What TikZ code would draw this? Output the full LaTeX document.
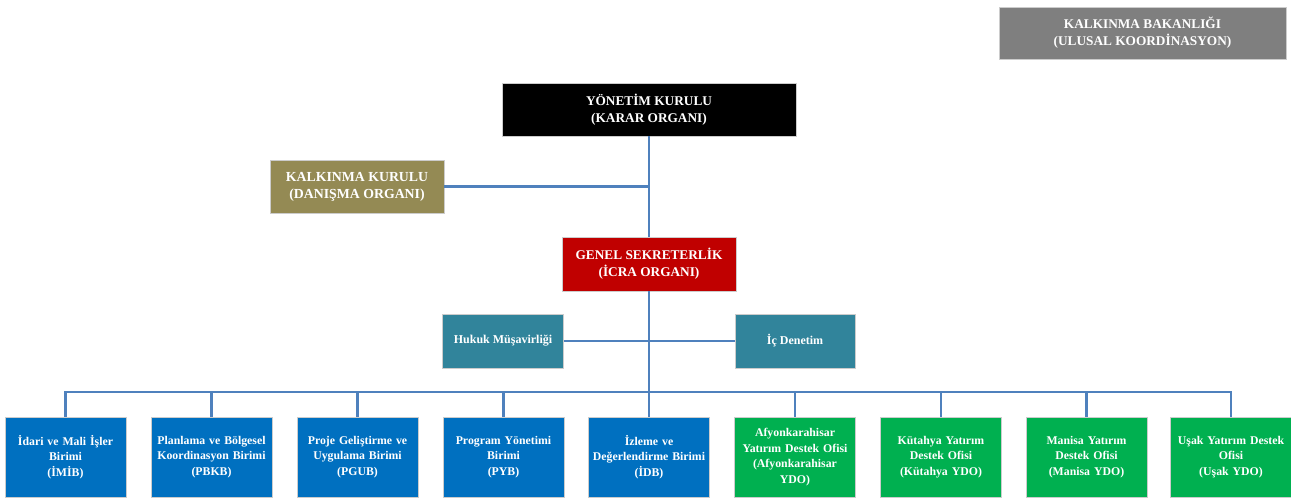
\documentclass[tikz,border=0pt]{standalone}
\usepackage{fontspec}
\setmainfont{Liberation Serif}
\definecolor{cgray}{HTML}{7F7F7F}
\definecolor{colive}{HTML}{948A54}
\definecolor{cred}{HTML}{C00000}
\definecolor{cteal}{HTML}{31849B}
\definecolor{cblue}{HTML}{0070C0}
\definecolor{cgreen}{HTML}{00B050}
\definecolor{cline}{HTML}{4F81BD}
\tikzset{
  box/.style={rectangle, inner sep=2pt, align=center, text=white, font=\bfseries, draw=white!80!black, line width=0.6pt},
  bigbox/.style={box, font=\fontsize{13.3}{16.8}\selectfont\bfseries},
  midbox/.style={box, minimum width=121pt, minimum height=54pt, font=\fontsize{12}{15}\selectfont\bfseries},
  unit/.style={box, minimum width=121pt, minimum height=80pt, text width=115pt, font=\fontsize{11.8}{15.5}\selectfont\bfseries},
  conn/.style={draw=cline, line width=2.2pt}
}
\begin{document}
\begin{tikzpicture}[x=1pt,y=-1pt]
\useasboundingbox (0,0) rectangle (1291,500);
\node[bigbox, fill=cgray, minimum width=287pt, minimum height=52pt] (kb) at (1142.5,33) {KALKINMA BAKANLIĞI\\(ULUSAL KOORDİNASYON)};
\node[bigbox, fill=black, minimum width=294pt, minimum height=53pt] (yk) at (649,109.5) {YÖNETİM KURULU\\(KARAR ORGANI)};
\node[bigbox, fill=colive, minimum width=174pt, minimum height=53pt, font=\fontsize{13.8}{17}\selectfont\bfseries] (kk) at (357,186.5) {KALKINMA KURULU\\(DANIŞMA ORGANI)};
\node[bigbox, fill=cred, minimum width=174pt, minimum height=54pt] (gs) at (649,264) {GENEL SEKRETERLİK\\(İCRA ORGANI)};
\node[midbox, fill=cteal] (hm) at (503,341) {Hukuk Müşavirliği};
\node[midbox, fill=cteal, minimum width=120pt] (id) at (795,341) {İç Denetim};
\node[unit, fill=cblue] (b1) at (65.5,457) {İdari ve Mali İşler\\Birimi\\(İMİB)};
\node[unit, fill=cblue] (b2) at (211.5,457) {Planlama ve Bölgesel\\Koordinasyon Birimi\\(PBKB)};
\node[unit, fill=cblue] (b3) at (357.5,457) {Proje Geliştirme ve\\Uygulama Birimi\\(PGUB)};
\node[unit, fill=cblue] (b4) at (503.5,457) {Program Yönetimi\\Birimi\\(PYB)};
\node[unit, fill=cblue] (b5) at (649,457) {İzleme ve\\Değerlendirme Birimi\\(İDB)};
\node[unit, fill=cgreen] (b6) at (795,457) {Afyonkarahisar\\Yatırım Destek Ofisi\\(Afyonkarahisar\\YDO)};
\node[unit, fill=cgreen] (b7) at (941,457) {Kütahya Yatırım\\Destek Ofisi\\(Kütahya YDO)};
\node[unit, fill=cgreen] (b8) at (1086.5,457) {Manisa Yatırım\\Destek Ofisi\\(Manisa YDO)};
\node[unit, fill=cgreen] (b9) at (1231,457) {Uşak Yatırım Destek\\Ofisi\\(Uşak YDO)};
\coordinate (busy) at (0,392);
\draw[conn] (yk.south) -- (gs.north);
\draw[conn] (kk.east) -- (kk.east -| yk.south);
\draw[conn] (gs.south) -- (b5.north);
\draw[conn] (hm.east) -- (hm.east -| gs.south);
\draw[conn] (id.west) -- (id.west -| gs.south);
\draw[conn] (b1.north) -- (b1.north |- busy) -- (b9.north |- busy) -- (b9.north);
\foreach \b in {b2,b3,b4,b6,b7,b8}{
  \draw[conn] (\b.north) -- (\b.north |- busy);
}
\end{tikzpicture}
\end{document}
